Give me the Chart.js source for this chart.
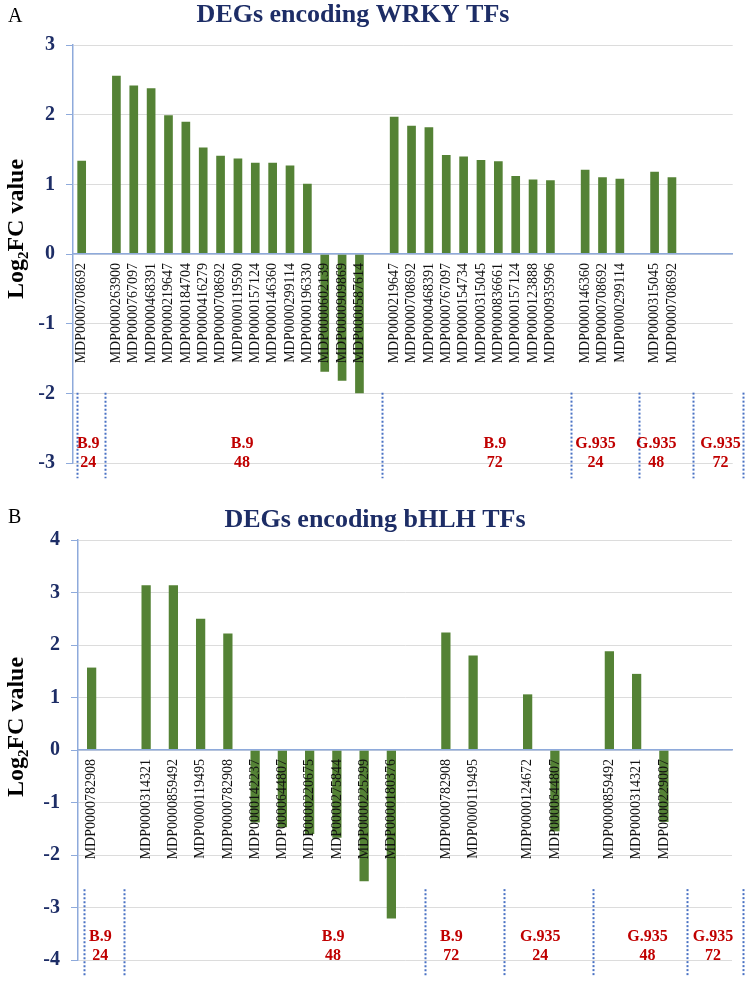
<!DOCTYPE html>
<html>
<head>
<meta charset="utf-8">
<script src="https://cdn.jsdelivr.net/npm/chart.js@4.4.0/dist/chart.umd.min.js"></script>
<style>
  body { margin: 0; background: #fff; }
  .panel { position: relative; width: 750px; }
</style>
</head>
<body>
<div class="panel" style="height:490px"><canvas id="wrky"></canvas></div>
<div class="panel" style="height:493px"><canvas id="bhlh"></canvas></div>
<script>
// Panel A: WRKY genes (empty strings are the gaps between sample groups)
const wrkyGenes = [
  'MDP0000708692', '',
  'MDP0000263900', 'MDP0000767097', 'MDP0000468391', 'MDP0000219647', 'MDP0000184704',
  'MDP0000416279', 'MDP0000708692', 'MDP0000119590', 'MDP0000157124', 'MDP0000146360',
  'MDP0000299114', 'MDP0000196330', 'MDP0000602139', 'MDP0000909869', 'MDP0000587614', '',
  'MDP0000219647', 'MDP0000708692', 'MDP0000468391', 'MDP0000767097', 'MDP0000154734',
  'MDP0000315045', 'MDP0000836661', 'MDP0000157124', 'MDP0000123888', 'MDP0000935996', '',
  'MDP0000146360', 'MDP0000708692', 'MDP0000299114', '',
  'MDP0000315045', 'MDP0000708692', '', '', ''
];
const wrkyValues = [
  1.34, null,
  2.56, 2.42, 2.38, 1.99, 1.90, 1.53, 1.41, 1.37, 1.31, 1.31, 1.27, 1.01, -1.69, -1.82, -2.00, null,
  1.97, 1.84, 1.82, 1.42, 1.40, 1.35, 1.33, 1.12, 1.07, 1.06, null,
  1.21, 1.10, 1.08, null,
  1.18, 1.10, null, null, null
];
const wrkyRange = [-3, 3];

// Panel B: bHLH genes
const bhlhGenes = [
  'MDP0000782908', '',
  'MDP0000314321', 'MDP0000859492', 'MDP0000119495', 'MDP0000782908', 'MDP0000142237',
  'MDP0000644807', 'MDP0000220675', 'MDP0000275844', 'MDP0000225299', 'MDP0000180376', '',
  'MDP0000782908', 'MDP0000119495', '',
  'MDP0000124672', 'MDP0000644807', '',
  'MDP0000859492', 'MDP0000314321', 'MDP0000229007', '', ''
];
const bhlhValues = [
  1.57, null,
  3.14, 3.14, 2.50, 2.22, -1.38, -1.47, -1.60, -1.67, -2.50, -3.21, null,
  2.24, 1.80, null,
  1.06, -1.55, null,
  1.88, 1.45, -1.37, null, null
];
const bhlhRange = [-4, 4];

// sample groups (cultivar, hours) shared by both panels
const groupNames = ['B.9', 'B.9', 'B.9', 'G.935', 'G.935', 'G.935'];
const groupHours = ['24', '48', '72', '24', '48', '72'];

const serif = '"Liberation Serif", "Times New Roman", serif';
const navy = '#1d2d66';
const axisBlue = '#8eaadb';

// draws panel letter, title, y title with subscript, group separators and labels
const panelText = {
  id: 'panelText',
  afterDraw(chart, args, o) {
    const { ctx, scales: { x, y } } = chart;
    ctx.save();

    ctx.fillStyle = '#000';
    ctx.font = '20px ' + serif;
    ctx.textAlign = 'left';
    ctx.textBaseline = 'alphabetic';
    ctx.fillText(o.letter, 8, o.letterY);

    ctx.fillStyle = navy;
    ctx.font = 'bold 26px ' + serif;
    ctx.textAlign = 'center';
    ctx.fillText(o.title, o.titleX, o.titleY);

    // Log2FC value, rotated
    ctx.save();
    ctx.translate(o.yTitleX, o.yTitleY);
    ctx.rotate(-Math.PI / 2);
    ctx.fillStyle = '#000';
    ctx.textAlign = 'left';
    ctx.textBaseline = 'middle';
    const big = 'bold 24px ' + serif, small = 'bold 15px ' + serif;
    ctx.font = big; const w1 = ctx.measureText('Log').width; const w3 = ctx.measureText('FC value').width;
    ctx.font = small; const w2 = ctx.measureText('2').width;
    let px = -(w1 + w2 + w3) / 2;
    ctx.font = big; ctx.fillText('Log', px, 0); px += w1;
    ctx.font = small; ctx.fillText('2', px, 7); px += w2;
    ctx.font = big; ctx.fillText('FC value', px, 0);
    ctx.restore();

    // dotted separators
    ctx.strokeStyle = '#4a72c4';
    ctx.lineWidth = 2;
    ctx.setLineDash([2, 2]);
    const y0 = y.getPixelForValue(o.sepFrom), y1 = y.getPixelForValue(o.sepTo);
    o.edges.forEach(e => {
      const sx = Math.round(x.getPixelForValue(e)) + 0.5;
      ctx.beginPath(); ctx.moveTo(sx, y0); ctx.lineTo(sx, y1); ctx.stroke();
    });
    ctx.setLineDash([]);

    ctx.fillStyle = '#c00000';
    ctx.font = 'bold 16px ' + serif;
    ctx.textAlign = 'center';
    ctx.textBaseline = 'middle';
    groupNames.forEach((g, i) => {
      const gx = x.getPixelForValue(o.labelAt[i]);
      ctx.fillText(g, gx, y.getPixelForValue(o.row1));
      ctx.fillText(groupHours[i], gx, y.getPixelForValue(o.row2));
    });
    ctx.restore();
  }
};

function makeChart(id, genes, values, range, cfg) {
  return new Chart(document.getElementById(id), {
    type: 'bar',
    data: {
      labels: genes,
      datasets: [{
        data: values,
        backgroundColor: '#548235',
        barPercentage: cfg.barPct,
        categoryPercentage: 1
      }]
    },
    options: {
      responsive: true,
      maintainAspectRatio: false,
      animation: false,
      layout: { padding: cfg.padding },
      plugins: {
        legend: { display: false },
        tooltip: { enabled: false },
        panelText: cfg.text
      },
      scales: {
        x: {
          position: { y: 0 },
          grid: { display: false, drawTicks: false },
          border: { color: axisBlue, width: 1.5, z: 1 },
          ticks: {
            z: 1,
            autoSkip: false,
            minRotation: 90,
            maxRotation: 90,
            padding: 9,
            color: '#111',
            font: { family: serif, size: 14 }
          }
        },
        y: {
          min: range[0],
          max: range[1],
          ticks: {
            stepSize: 1,
            padding: 11,
            color: navy,
            font: { family: serif, size: 20, weight: 'bold' }
          },
          grid: { color: '#dcdcdc', tickLength: 7, tickColor: axisBlue },
          border: { color: axisBlue, width: 1.5 },
          afterFit(scale) { scale.width = cfg.axisWidth; }
        }
      }
    },
    plugins: [panelText]
  });
}

makeChart('wrky', wrkyGenes, wrkyValues, wrkyRange, {
  barPct: 0.5,
  axisWidth: 73,
  padding: { top: 45, right: 13, bottom: 27, left: 0 },
  text: {
    letter: 'A', letterY: 22,
    title: 'DEGs encoding WRKY TFs', titleX: 353, titleY: 22,
    yTitleX: 17, yTitleY: 229,
    edges: [-0.25, 1.35, 17.32, 28.2, 32.1, 35.2, 38.1],
    labelAt: [0.38, 9.24, 23.8, 29.6, 33.1, 36.8],
    sepFrom: -1.99, sepTo: -3.22,
    row1: -2.73, row2: -3.0
  }
});

makeChart('bhlh', bhlhGenes, bhlhValues, bhlhRange, {
  barPct: 0.34,
  axisWidth: 78,
  padding: { top: 50, right: 18, bottom: 20, left: 0 },
  text: {
    letter: 'B', letterY: 33,
    title: 'DEGs encoding bHLH TFs', titleX: 375, titleY: 37,
    yTitleX: 17, yTitleY: 237,
    edges: [-0.27, 1.2, 12.25, 15.14, 18.4, 21.85, 23.9],
    labelAt: [0.32, 8.86, 13.2, 16.46, 20.4, 22.8],
    sepFrom: -2.65, sepTo: -4.29,
    row1: -3.55, row2: -3.93
  }
});
</script>
</body>
</html>
